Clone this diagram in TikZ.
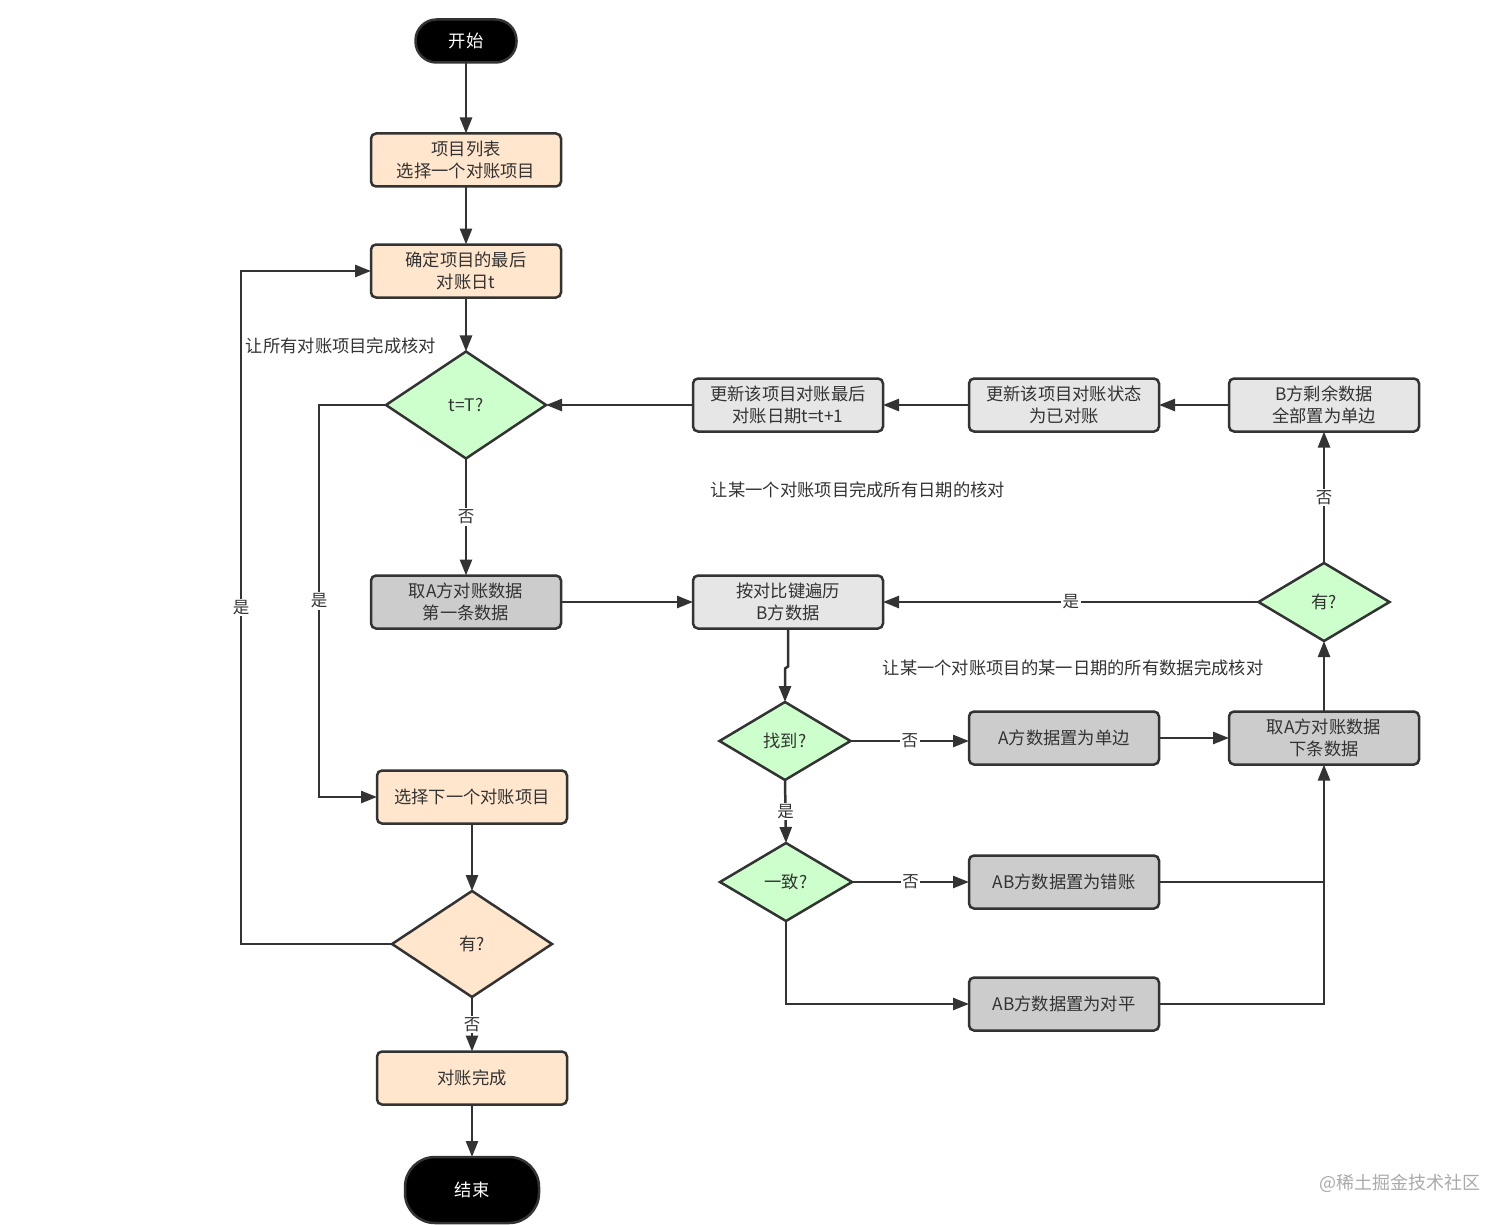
\documentclass[tikz,border=0pt]{standalone}
\usepackage{fontspec}
\newfontfamily\cjk{Noto Sans CJK SC}
\usetikzlibrary{shapes.geometric,arrows.meta}
\definecolor{lc}{HTML}{333333}
\definecolor{tc}{HTML}{333333}
\definecolor{peach}{HTML}{FFE6CC}
\definecolor{lgreen}{HTML}{CCFFCC}
\definecolor{lgray}{HTML}{E6E6E6}
\definecolor{dgray}{HTML}{CCCCCC}
\definecolor{wm}{HTML}{AAAAAA}
\tikzset{
  base/.style={draw=lc, line width=2.5pt, outer sep=0pt, inner sep=2pt, align=center, text=tc,
    font=\cjk\fontsize{17.3pt}{22pt}\selectfont},
  boxbase/.style={base, rectangle, rounded corners=5pt, minimum width=190pt, minimum height=53pt},
  peachbox/.style={boxbase, fill=peach},
  lgraybox/.style={boxbase, fill=lgray},
  dgraybox/.style={boxbase, fill=dgray},
  greendia/.style={base, diamond, fill=lgreen, inner sep=0pt},
  peachdia/.style={base, diamond, fill=peach, inner sep=0pt},
  pill/.style={base, rectangle, fill=black, text=white},
  arr/.style={draw=lc, line width=2.5pt, -{Triangle[length=16pt,width=12pt]}},
  ln/.style={draw=lc, line width=2.5pt},
  lbl/.style={fill=white, inner sep=1.5pt, text=tc, font=\cjk\fontsize{16.5pt}{18pt}\selectfont},
  note/.style={text=tc, font=\cjk\fontsize{17.3pt}{20pt}\selectfont},
}
\begin{document}
\begin{tikzpicture}[x=1pt,y=-1pt]
\useasboundingbox[fill=white] (0,0) rectangle (1512,1225);

% left column
\node[pill, minimum width=101pt, minimum height=43pt, rounded corners=21pt] (start) at (466,41) {开始};
\node[peachbox] (list) at (466,160) {项目列表\\选择一个对账项目};
\node[peachbox] (det) at (466,271) {确定项目的最后\\对账日t};
\node[greendia, minimum width=160pt, minimum height=107pt] (tT) at (466,405) {t=T?};
\node[dgraybox] (firstA) at (466,602) {取A方对账数据\\第一条数据};
\node[peachbox] (sel) at (472,797) {选择下一个对账项目};
\node[peachdia, minimum width=160pt, minimum height=106pt] (have1) at (472,944) {有?};
\node[peachbox] (done) at (472,1078) {对账完成};
\node[pill, minimum width=134pt, minimum height=66pt, rounded corners=30pt] (end) at (472,1190) {结束};

% top row
\node[lgraybox] (upd1) at (788,405) {更新该项目对账最后\\对账日期t=t+1};
\node[lgraybox] (upd2) at (1064,405) {更新该项目对账状态\\为已对账};
\node[lgraybox] (remB) at (1324,405) {B方剩余数据\\全部置为单边};

% middle
\node[lgraybox] (walk) at (788,602) {按对比键遍历\\B方数据};
\node[greendia, minimum width=131pt, minimum height=78pt] (have2) at (1324,602) {有?};
\node[greendia, minimum width=131pt, minimum height=78pt] (found) at (785,741) {找到?};
\node[dgraybox] (single) at (1064,738) {A方数据置为单边};
\node[dgraybox] (nextA) at (1324,738) {取A方对账数据\\下条数据};
\node[greendia, minimum width=132pt, minimum height=78pt] (same) at (786,882) {一致?};
\node[dgraybox] (err) at (1064,882) {AB方数据置为错账};
\node[dgraybox] (flat) at (1064,1004) {AB方数据置为对平};

% notes
\node[note] (n1) at (341,346) {让所有对账项目完成核对};
\node[note] (n2) at (858,490) {让某一个对账项目完成所有日期的核对};
\node[note] (n3) at (1073,668) {让某一个对账项目的某一日期的所有数据完成核对};
\node[text=wm, font=\cjk\fontsize{18pt}{20pt}\selectfont] (wmk) at (1400,1183) {@稀土掘金技术社区};

% connectors
\draw[arr] (start) -- (list);
\draw[arr] (list) -- (det);
\draw[arr] (det) -- (tT);
\draw[arr] (tT.south) -- node[lbl]{否} (firstA.north);
\draw[arr] (tT.west) -- ++(-67,0) |- node[lbl,pos=0.25]{是} (sel.west);
\draw[arr] (sel.south) -- (have1.north);
\draw[arr] (have1.south) -- node[lbl]{否} (done.north);
\draw[arr] (done.south) -- (end.north);
\draw[arr] (have1.west) -- ++(-151,0) |- node[lbl,pos=0.25]{是} (det.west);

\draw[arr] (firstA.east) -- (walk.west);
\draw[arr] (walk.south) -- ++(0,38) -- ++(-3,2) -- (found.north);
\draw[arr] (found.east) -- node[lbl]{否} (found.east -| single.west);
\draw[arr] (single.east) -- (nextA.west);
\draw[arr] (found.south) -- node[lbl]{是} (same.north);
\draw[arr] (same.east) -- node[lbl]{否} (err.west);
\draw[arr] (same.south) |- (flat.west);
\draw[ln] (err.east) -- (err.east -| nextA.south);
\draw[arr] (flat.east) -| (nextA.south);
\draw[arr] (nextA.north) -- (have2.south);
\draw[arr] (have2.west) -- node[lbl]{是} (walk.east);
\draw[arr] (have2.north) -- node[lbl]{否} (remB.south);
\draw[arr] (remB.west) -- (upd2.east);
\draw[arr] (upd2.west) -- (upd1.east);
\draw[arr] (upd1.west) -- (tT.east);
\end{tikzpicture}
\end{document}
